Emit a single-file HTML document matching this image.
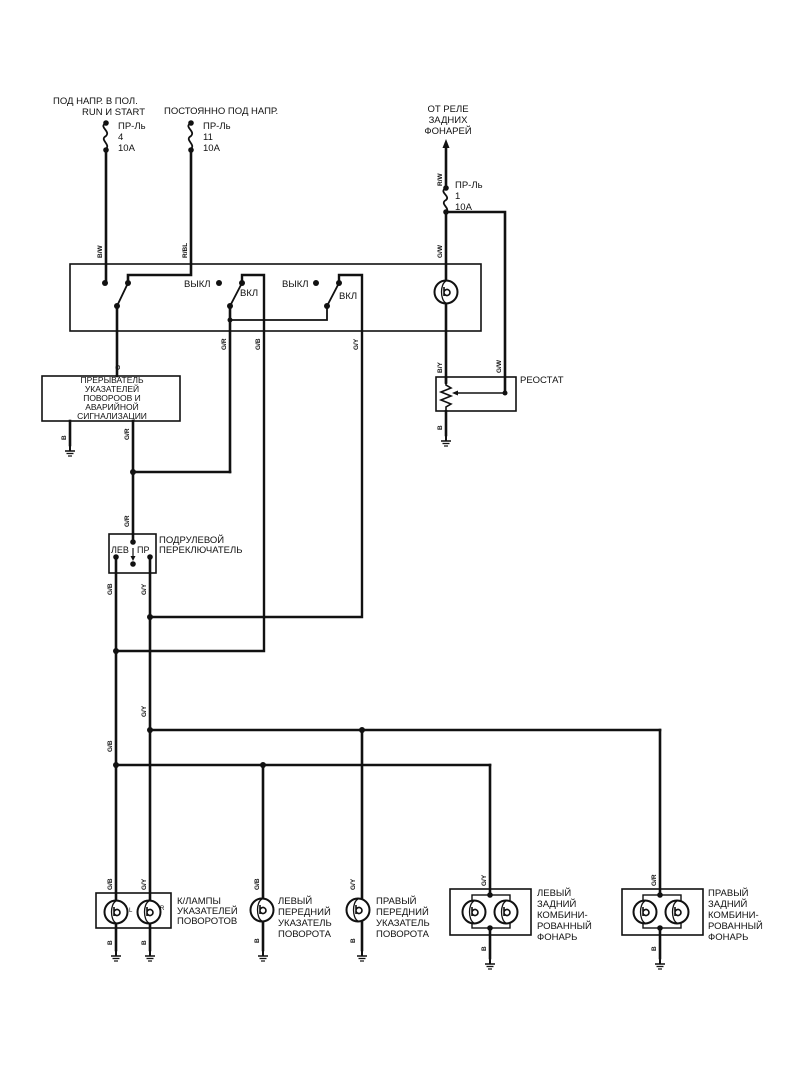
<!DOCTYPE html>
<html><head><meta charset="utf-8"><style>
html,body{margin:0;padding:0;background:#fff;}
svg{display:block;}
text{font-family:"Liberation Sans",sans-serif;fill:#111;}
.t{font-size:9.5px;}
.w{font-size:6.5px;font-weight:bold;}
</style></head><body>
<svg width="800" height="1068" viewBox="0 0 800 1068" xmlns="http://www.w3.org/2000/svg">
<defs>
<g id="gnd"><line x1="0" y1="0" x2="0" y2="6" stroke="#111" stroke-width="2"/><line x1="-5" y1="6" x2="5" y2="6" stroke="#111" stroke-width="1.5"/><line x1="-3.5" y1="8.5" x2="3.5" y2="8.5" stroke="#111" stroke-width="1.3"/><line x1="-2" y1="11" x2="2" y2="11" stroke="#111" stroke-width="1.2"/></g>
<g id="lamp"><circle r="11.5" fill="#fff" stroke="#111" stroke-width="2"/><path d="M0,-11 C-6,-8 -6,8 0,11" fill="none" stroke="#111" stroke-width="1.3"/><path d="M-2,-5 L-2,4 M-2,0 A3,3 0 1 1 -2,1" fill="none" stroke="#111" stroke-width="1.6"/></g>
</defs>
<g fill="none" stroke="#111" stroke-width="2.6" stroke-linecap="square">
<path d="M106,123 c-8,4 5,8 0,13 c-7,4 5,8 0,13" stroke-width="1.8"/>
<path d="M191,123 c-8,4 5,8 0,13 c-7,4 5,8 0,13" stroke-width="1.8"/>
<path d="M446,188 c-8,4 5,8 0,12 c-7,4 5,8 0,12" stroke-width="1.8"/>
<line x1="106" y1="150" x2="106" y2="283"/>
<polyline points="191,150 191,275 128,275 128,283"/>
<line x1="446" y1="146" x2="446" y2="188"/>
<rect x="70" y="264" width="411" height="67" stroke-width="1.6"/>
<line x1="117" y1="306" x2="128" y2="283" stroke-width="1.8"/>
<line x1="230" y1="306" x2="242" y2="283" stroke-width="1.8"/>
<line x1="327" y1="306" x2="339" y2="283" stroke-width="1.8"/>
<polyline points="242,283 242,275 264,275 264,651 116,651" stroke-width="2.4"/>
<polyline points="339,283 339,275 362,275 362,617 150,617" stroke-width="2.4"/>
<polyline points="230,320 327,320 327,306" stroke-width="1.8"/>
<line x1="230" y1="306" x2="230" y2="472"/>
<line x1="117" y1="306" x2="117" y2="376"/>
<rect x="42" y="376" width="138" height="45" stroke-width="1.6"/>
<line x1="70" y1="421" x2="70" y2="445"/>
<line x1="133" y1="421" x2="133" y2="542"/>
<line x1="133" y1="472" x2="230" y2="472"/>
<rect x="109" y="534" width="47" height="39" stroke-width="1.6"/>
<line x1="116" y1="557" x2="116" y2="950"/>
<line x1="150" y1="557" x2="150" y2="950"/>
<line x1="150" y1="730" x2="660" y2="730"/>
<line x1="116" y1="765" x2="490" y2="765"/>
<line x1="263" y1="765" x2="263" y2="950"/>
<line x1="362" y1="730" x2="362" y2="950"/>
<line x1="490" y1="765" x2="490" y2="895"/>
<line x1="660" y1="730" x2="660" y2="895"/>
<line x1="490" y1="928" x2="490" y2="958"/>
<line x1="660" y1="928" x2="660" y2="958"/>
<line x1="446" y1="212" x2="446" y2="435"/>
<polyline points="446,212 505,212 505,393"/>
<rect x="436" y="377" width="80" height="34" stroke-width="1.6"/>
<rect x="96" y="893" width="75" height="35" stroke-width="1.6"/>
<rect x="450" y="889" width="81" height="46" stroke-width="1.6"/>
<rect x="472" y="895" width="38" height="33" stroke-width="1.4"/>
<rect x="622" y="889" width="81" height="46" stroke-width="1.6"/>
<rect x="643" y="895" width="38" height="33" stroke-width="1.4"/>
</g>
<rect x="440" y="384" width="12" height="26" fill="#fff"/>
<polyline points="446,382 446,385 451,388 441,392 451,396 441,400 451,404 446,407 446,411" fill="none" stroke="#111" stroke-width="1.6"/>
<line x1="446" y1="377" x2="446" y2="383" stroke="#111" stroke-width="2.4"/>
<line x1="505" y1="393" x2="456" y2="393" stroke="#111" stroke-width="1.4"/>
<polygon points="452,393 458,390.5 458,395.5" fill="#111"/>
<polygon points="446,139 442.5,148 449.5,148" fill="#111"/>
<g fill="#111">
<circle cx="106" cy="123" r="2.8"/><circle cx="106" cy="150" r="2.8"/>
<circle cx="191" cy="123" r="2.8"/><circle cx="191" cy="150" r="2.8"/>
<circle cx="446" cy="188" r="2.8"/><circle cx="446" cy="212" r="2.8"/>
<circle cx="105" cy="283" r="3"/><circle cx="128" cy="283" r="3"/><circle cx="117" cy="306" r="3"/>
<circle cx="219" cy="283" r="3"/><circle cx="242" cy="283" r="3"/><circle cx="230" cy="306" r="3"/><circle cx="230" cy="320" r="2.5"/>
<circle cx="316" cy="283" r="3"/><circle cx="339" cy="283" r="3"/><circle cx="327" cy="306" r="3"/>
<circle cx="505" cy="393" r="2.5"/>
<circle cx="133" cy="472" r="3"/>
<circle cx="133" cy="542" r="2.8"/><circle cx="133" cy="564" r="2.8"/>
<circle cx="116" cy="557" r="2.8"/><circle cx="150" cy="557" r="2.8"/>
<circle cx="150" cy="617" r="3"/><circle cx="116" cy="651" r="3"/>
<circle cx="150" cy="730" r="3"/><circle cx="362" cy="730" r="3"/>
<circle cx="116" cy="765" r="3"/><circle cx="263" cy="765" r="3"/>
<circle cx="490" cy="895" r="2.8"/><circle cx="490" cy="928" r="2.8"/>
<circle cx="660" cy="895" r="2.8"/><circle cx="660" cy="928" r="2.8"/>
</g>
<line x1="133" y1="548" x2="133" y2="558" stroke="#111" stroke-width="1.2"/>
<polygon points="133,561 130.5,556 135.5,556" fill="#111"/>
<use href="#lamp" x="446" y="292"/>
<use href="#lamp" x="116" y="912"/>
<use href="#lamp" x="149" y="912"/>
<use href="#lamp" x="262" y="910"/>
<use href="#lamp" x="358" y="910"/>
<use href="#lamp" x="474" y="912"/>
<use href="#lamp" x="506" y="912"/>
<use href="#lamp" x="645" y="912"/>
<use href="#lamp" x="677" y="912"/>
<use href="#gnd" x="70" y="445"/>
<use href="#gnd" x="446" y="435"/>
<use href="#gnd" x="116" y="950"/>
<use href="#gnd" x="150" y="950"/>
<use href="#gnd" x="263" y="950"/>
<use href="#gnd" x="362" y="950"/>
<use href="#gnd" x="490" y="958"/>
<use href="#gnd" x="660" y="958"/>
<g class="t">
<text x="53" y="104">ПОД НАПР. В ПОЛ.</text>
<text x="145" y="115" text-anchor="end">RUN И  START</text>
<text x="118" y="129">ПР-Ль</text><text x="118" y="140">4</text><text x="118" y="151">10А</text>
<text x="164" y="114">ПОСТОЯННО ПОД НАПР.</text>
<text x="203" y="129">ПР-Ль</text><text x="203" y="140">11</text><text x="203" y="151">10А</text>
<text x="448" y="112" text-anchor="middle">ОТ РЕЛЕ</text>
<text x="448" y="123" text-anchor="middle">ЗАДНИХ</text>
<text x="448" y="134" text-anchor="middle">ФОНАРЕЙ</text>
<text x="455" y="188">ПР-Ль</text><text x="455" y="199">1</text><text x="455" y="210">10А</text>
<text x="184" y="287">ВЫКЛ</text><text x="240" y="296">ВКЛ</text>
<text x="282" y="287">ВЫКЛ</text><text x="339" y="299">ВКЛ</text>
<text x="520" y="383">РЕОСТАТ</text>
<text x="159" y="543">ПОДРУЛЕВОЙ</text><text x="159" y="553">ПЕРЕКЛЮЧАТЕЛЬ</text>
<text x="111" y="553" font-size="9">ЛЕВ</text><text x="137" y="553" font-size="9">ПР</text>
<text x="177" y="904">К/ЛАМПЫ</text><text x="177" y="914">УКАЗАТЕЛЕЙ</text><text x="177" y="924">ПОВОРОТОВ</text>
<text x="278" y="904">ЛЕВЫЙ</text><text x="278" y="915">ПЕРЕДНИЙ</text><text x="278" y="926">УКАЗАТЕЛЬ</text><text x="278" y="937">ПОВОРОТА</text>
<text x="376" y="904">ПРАВЫЙ</text><text x="376" y="915">ПЕРЕДНИЙ</text><text x="376" y="926">УКАЗАТЕЛЬ</text><text x="376" y="937">ПОВОРОТА</text>
<text x="537" y="896">ЛЕВЫЙ</text><text x="537" y="907">ЗАДНИЙ</text><text x="537" y="918">КОМБИНИ-</text><text x="537" y="929">РОВАННЫЙ</text><text x="537" y="940">ФОНАРЬ</text>
<text x="708" y="896">ПРАВЫЙ</text><text x="708" y="907">ЗАДНИЙ</text><text x="708" y="918">КОМБИНИ-</text><text x="708" y="929">РОВАННЫЙ</text><text x="708" y="940">ФОНАРЬ</text>
</g>
<g font-size="8.5" text-anchor="middle">
<text x="112" y="383">ПРЕРЫВАТЕЛЬ</text><text x="112" y="392">УКАЗАТЕЛЕЙ</text><text x="112" y="401">ПОВОРООВ И</text><text x="112" y="410">АВАРИЙНОЙ</text><text x="112" y="419">СИГНАЛИЗАЦИИ</text>
</g>
<text x="129" y="912" font-size="6">L</text><text x="160" y="910" font-size="6">R</text>
<g class="w">
<text transform="translate(102,258) rotate(-90)">B/W</text>
<text transform="translate(187,258) rotate(-90)">R/BL</text>
<text transform="translate(442,186) rotate(-90)">R/W</text>
<text transform="translate(442,258) rotate(-90)">G/W</text>
<text transform="translate(226,350) rotate(-90)">G/R</text>
<text transform="translate(260,350) rotate(-90)">G/B</text>
<text transform="translate(358,350) rotate(-90)">G/Y</text>
<text transform="translate(120,370) rotate(-90)">G</text>
<text transform="translate(442,373) rotate(-90)">B/Y</text>
<text transform="translate(501,373) rotate(-90)">G/W</text>
<text transform="translate(442,430) rotate(-90)">B</text>
<text transform="translate(66,440) rotate(-90)">B</text>
<text transform="translate(129,440) rotate(-90)">G/R</text>
<text transform="translate(129,527) rotate(-90)">G/R</text>
<text transform="translate(112,595) rotate(-90)">G/B</text>
<text transform="translate(146,595) rotate(-90)">G/Y</text>
<text transform="translate(146,717) rotate(-90)">G/Y</text>
<text transform="translate(112,752) rotate(-90)">G/B</text>
<text transform="translate(112,890) rotate(-90)">G/B</text>
<text transform="translate(146,890) rotate(-90)">G/Y</text>
<text transform="translate(259,890) rotate(-90)">G/B</text>
<text transform="translate(355,890) rotate(-90)">G/Y</text>
<text transform="translate(486,886) rotate(-90)">G/Y</text>
<text transform="translate(656,886) rotate(-90)">G/R</text>
<text transform="translate(112,945) rotate(-90)">B</text>
<text transform="translate(146,945) rotate(-90)">B</text>
<text transform="translate(259,943) rotate(-90)">B</text>
<text transform="translate(355,943) rotate(-90)">B</text>
<text transform="translate(486,951) rotate(-90)">B</text>
<text transform="translate(656,951) rotate(-90)">B</text>
</g>
</svg>
</body></html>
